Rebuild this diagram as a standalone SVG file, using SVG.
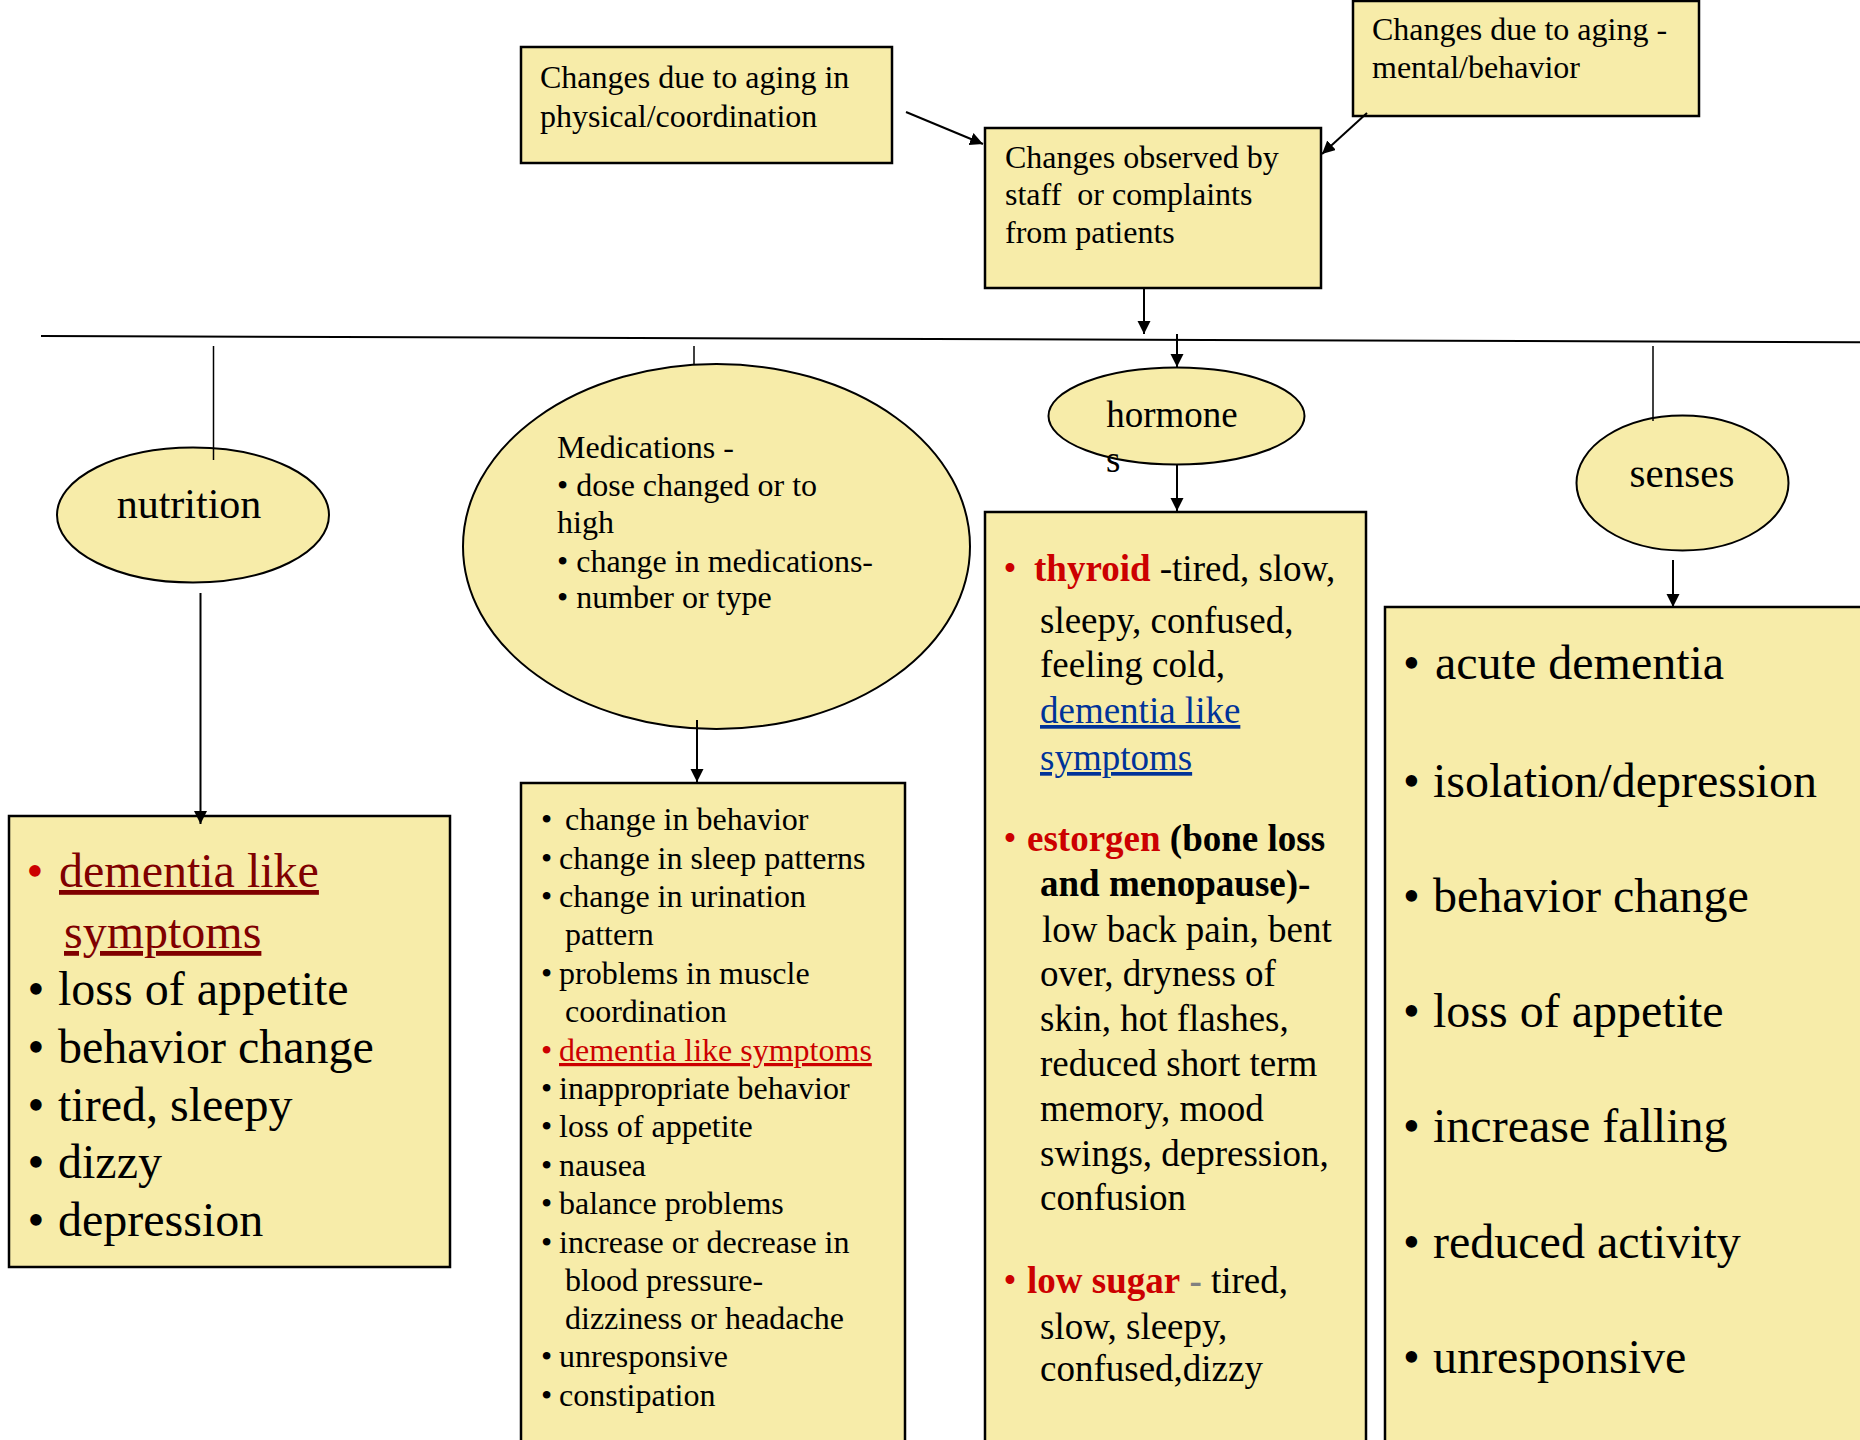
<svg xmlns="http://www.w3.org/2000/svg" width="1860" height="1440" viewBox="0 0 1860 1440">
<style>
text{font-family:"Liberation Serif","Times New Roman",serif;fill:#000}
.box{fill:#F7ECA9;stroke:#000;stroke-width:2.5}
.ell{fill:#F7ECA9;stroke:#000;stroke-width:2}
.t32{font-size:32px}
.t37{font-size:37px}
.t48{font-size:48px}
.b{font-weight:bold}
.red{fill:#CC0000}
.maroon{fill:#800000;text-decoration:underline}
.blue{fill:#003399;text-decoration:underline}
.redu{fill:#CC0000;text-decoration:underline}
.gray{fill:#808080}
.con{stroke:#000;stroke-width:2;fill:none}
.thin{stroke:#000;stroke-width:1.5;fill:none}
</style>
<defs>
<marker id="ah" markerUnits="userSpaceOnUse" markerWidth="14" markerHeight="14" refX="13" refY="6.5" orient="auto">
<path d="M0,0 L13,6.5 L0,13 z" fill="#000"/>
</marker>
</defs>
<rect width="1860" height="1440" fill="#fff"/>

<g id="node-physical">
<rect class="box" x="521" y="47" width="371" height="116"/>
<text class="t32"><tspan x="540" y="88">Changes due to aging in</tspan><tspan x="540" y="127">physical/coordination</tspan></text>
</g>

<g id="node-mental">
<rect class="box" x="1353" y="1" width="346" height="115"/>
<text class="t32"><tspan x="1372" y="40">Changes due to aging -</tspan><tspan x="1372" y="78">mental/behavior</tspan></text>
</g>

<g id="node-observed">
<rect class="box" x="985" y="128" width="336" height="160"/>
<text class="t32" xml:space="preserve"><tspan x="1005" y="168">Changes observed by</tspan><tspan x="1005" y="205">staff  or complaints</tspan><tspan x="1005" y="243">from patients</tspan></text>
</g>

<g id="node-nutrition">
<ellipse class="ell" cx="193" cy="515" rx="136" ry="67.5"/>
<text x="189" y="518" font-size="42" text-anchor="middle">nutrition</text>
</g>

<g id="node-medications">
<ellipse class="ell" cx="716.5" cy="546.5" rx="253.5" ry="182.5"/>
<text class="t32"><tspan x="557" y="458">Medications -</tspan><tspan x="557" y="496">• dose changed or to</tspan><tspan x="557" y="533">high</tspan><tspan x="557" y="572">• change in medications-</tspan><tspan x="557" y="608">• number or type</tspan></text>
</g>

<g id="node-hormone">
<ellipse class="ell" cx="1176.5" cy="416" rx="128" ry="48.5"/>
<text class="t37"><tspan x="1172" y="427" text-anchor="middle">hormone</tspan><tspan x="1106" y="472">s</tspan></text>
</g>

<g id="node-senses">
<ellipse class="ell" cx="1682.5" cy="483" rx="106" ry="67.5"/>
<text x="1682" y="487" font-size="41" text-anchor="middle">senses</text>
</g>

<g id="node-nutrition-effects">
<rect class="box" x="9" y="816" width="441" height="451"/>
<text class="t48">
<tspan class="red" x="26.5" y="887">•</tspan><tspan class="maroon" x="59" y="887">dementia like</tspan>
<tspan class="maroon" x="64" y="948">symptoms</tspan>
<tspan x="27.5" y="1005">•</tspan><tspan x="58" y="1005">loss of appetite</tspan>
<tspan x="27.5" y="1063">•</tspan><tspan x="58" y="1063">behavior change</tspan>
<tspan x="27.5" y="1121">•</tspan><tspan x="58" y="1121">tired, sleepy</tspan>
<tspan x="27.5" y="1178">•</tspan><tspan x="58" y="1178">dizzy</tspan>
<tspan x="27.5" y="1236">•</tspan><tspan x="58" y="1236">depression</tspan>
</text>
</g>

<g id="node-medication-effects">
<rect class="box" x="521" y="783" width="384" height="680"/>
<text class="t32">
<tspan x="541" y="830">•</tspan><tspan x="565" y="830">change in behavior</tspan>
<tspan x="541" y="869">•</tspan><tspan x="559" y="869">change in sleep patterns</tspan>
<tspan x="541" y="907">•</tspan><tspan x="559" y="907">change in urination</tspan>
<tspan x="565" y="945">pattern</tspan>
<tspan x="541" y="984">•</tspan><tspan x="559" y="984">problems in muscle</tspan>
<tspan x="565" y="1022">coordination</tspan>
<tspan class="red" x="541" y="1061">•</tspan><tspan class="redu" x="559" y="1061">dementia like symptoms</tspan>
<tspan x="541" y="1099">•</tspan><tspan x="559" y="1099">inappropriate behavior</tspan>
<tspan x="541" y="1137">•</tspan><tspan x="559" y="1137">loss of appetite</tspan>
<tspan x="541" y="1176">•</tspan><tspan x="559" y="1176">nausea</tspan>
<tspan x="541" y="1214">•</tspan><tspan x="559" y="1214">balance problems</tspan>
<tspan x="541" y="1253">•</tspan><tspan x="559" y="1253">increase or decrease in</tspan>
<tspan x="565" y="1291">blood pressure-</tspan>
<tspan x="565" y="1329">dizziness or headache</tspan>
<tspan x="541" y="1367">•</tspan><tspan x="559" y="1367">unresponsive</tspan>
<tspan x="541" y="1406">•</tspan><tspan x="559" y="1406">constipation</tspan>
</text>
</g>

<g id="node-hormone-effects">
<rect class="box" x="985" y="512" width="381" height="950"/>
<text class="t37">
<tspan class="red" x="1003.5" y="581">•</tspan><tspan class="red b" x="1034" y="581">thyroid</tspan><tspan> -tired, slow,</tspan>
<tspan x="1040" y="633">sleepy, confused,</tspan>
<tspan x="1040" y="677">feeling cold,</tspan>
<tspan class="blue" x="1040" y="723">dementia like</tspan>
<tspan class="blue" x="1040" y="770">symptoms</tspan>
<tspan class="red" x="1003.5" y="851">•</tspan><tspan class="red b" x="1027" y="851">estorgen</tspan><tspan class="b"> (bone loss</tspan>
<tspan class="b" x="1040" y="896">and menopause)-</tspan>
<tspan x="1042" y="942">low back pain, bent</tspan>
<tspan x="1040" y="986">over, dryness of</tspan>
<tspan x="1040" y="1031">skin, hot flashes,</tspan>
<tspan x="1040" y="1076">reduced short term</tspan>
<tspan x="1040" y="1121">memory, mood</tspan>
<tspan x="1040" y="1166">swings, depression,</tspan>
<tspan x="1040" y="1210">confusion</tspan>
<tspan class="red" x="1003.5" y="1293">•</tspan><tspan class="red b" x="1027" y="1293">low sugar</tspan><tspan> </tspan><tspan class="gray b">-</tspan><tspan> tired,</tspan>
<tspan x="1040" y="1339">slow, sleepy,</tspan>
<tspan x="1040" y="1381">confused,dizzy</tspan>
</text>
</g>

<g id="node-senses-effects">
<rect class="box" x="1385" y="607" width="520" height="900"/>
<text class="t48">
<tspan x="1403" y="679">•</tspan><tspan x="1435" y="679">acute dementia</tspan>
<tspan x="1403" y="797">•</tspan><tspan x="1433" y="797">isolation/depression</tspan>
<tspan x="1403" y="912">•</tspan><tspan x="1433" y="912">behavior change</tspan>
<tspan x="1403" y="1027">•</tspan><tspan x="1433" y="1027">loss of appetite</tspan>
<tspan x="1403" y="1142">•</tspan><tspan x="1433" y="1142">increase falling</tspan>
<tspan x="1403" y="1258">•</tspan><tspan x="1433" y="1258">reduced activity</tspan>
<tspan x="1403" y="1373">•</tspan><tspan x="1433" y="1373">unresponsive</tspan>
</text>
</g>

<g id="connectors">
<line class="con" x1="906" y1="112" x2="983" y2="144" marker-end="url(#ah)"/>
<line class="con" x1="1367" y1="113" x2="1322" y2="154" marker-end="url(#ah)"/>
<line class="con" x1="1144" y1="288" x2="1144" y2="334" marker-end="url(#ah)"/>
<line class="con" x1="41" y1="336" x2="1860" y2="342.2" stroke-width="2.5"/>
<line class="thin" x1="213.5" y1="346" x2="213.5" y2="460"/>
<line class="thin" x1="694" y1="346" x2="694" y2="365"/>
<line class="con" x1="1177" y1="334" x2="1177" y2="367" marker-end="url(#ah)"/>
<line class="thin" x1="1653" y1="346" x2="1653" y2="421"/>
<line class="con" x1="200.5" y1="593" x2="200.5" y2="824" marker-end="url(#ah)"/>
<line class="con" x1="697" y1="720" x2="697" y2="782" marker-end="url(#ah)"/>
<line class="con" x1="1177" y1="465" x2="1177" y2="511" marker-end="url(#ah)"/>
<line class="con" x1="1673" y1="560" x2="1673" y2="607" marker-end="url(#ah)"/>
</g>
</svg>
